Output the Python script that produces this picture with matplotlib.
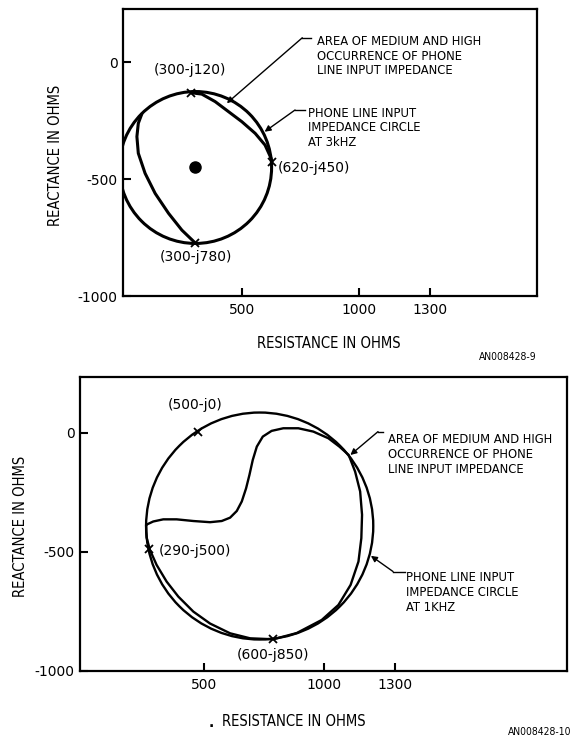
import matplotlib
matplotlib.use("Agg")
import matplotlib.pyplot as plt
from matplotlib import font_manager
from matplotlib.patches import Circle

plt.rcParams["axes.unicode_minus"] = False

# --- top chart: 3 kHz ---
circle3_center = (300, -450)
circle3_radius = 325
area3_right_r = [281, 327, 384, 441, 498, 555, 597, 623, 626]
area3_right_x = [-130, -136, -168, -211, -254, -304, -354, -411, -425]
area3_left_r = [298, 242, 185, 128, 85, 56, 50, 56, 71]
area3_left_x = [-772, -718, -646, -561, -475, -389, -318, -261, -221]
points3_r = [281, 298, 626]
points3_x = [-130, -772, -425]
points3_labels = ["(300-j120)", "(300-j780)", "(620-j450)"]

# --- bottom chart: 1 kHz ---
circle1_center = (732, -392)
circle1_radius = 476
area1_r = [256, 286, 328, 384, 454, 524, 573, 608, 636, 657, 675, 689, 703, 720,
           745, 782, 831, 894, 957, 1020, 1066, 1105,
           1132, 1153, 1161, 1158, 1146, 1113, 1062, 992, 887, 789,
           692, 608, 524, 454, 391, 342, 300, 272, 258, 256]
area1_x = [-387, -373, -364, -364, -371, -376, -371, -357, -329, -289, -234, -178, -115, -59,
           -17, 7, 18, 18, 4, -24, -59, -94,
           -164, -247, -345, -443, -541, -639, -723, -786, -841, -867,
           -863, -842, -801, -751, -688, -625, -555, -492, -440, -387]
points1_r = [472, 270, 789]
points1_x = [4, -488, -864]
points1_labels = ["(500-j0)", "(290-j500)", "(600-j850)"]

xticks = [500, 1000, 1300]
yticks = [0, -500, -1000]


# najde uzky (condensed) bezpatkovy font, jinak Liberation Sans
def uzky_font():
    kandidati = []
    for f in font_manager.fontManager.ttflist:
        jmeno = f.name
        uzky = f.stretch in ("condensed", "semi-condensed", "extra-condensed") \
            or "Narrow" in jmeno or "Condensed" in jmeno
        if not uzky or f.style != "normal" or f.weight not in (400, "normal", "regular"):
            continue
        if "Serif" in jmeno or "Mono" in jmeno:
            continue
        kandidati.append(f)
    if kandidati:
        kandidati.sort(key=lambda f: 0 if "Liberation" in f.name else 1)
        return font_manager.FontProperties(fname=kandidati[0].fname)
    return font_manager.FontProperties(family="Liberation Sans")


fig = plt.figure(figsize=(5.73, 7.41), dpi=100)
renderer = fig.canvas.get_renderer()
UZKY = uzky_font()


# velikost fontu tak, aby text mel danou sirku v pixelech
def velikost(text, sirka):
    fp = UZKY.copy()
    fp.set_size(10)
    t = fig.text(0, 0, text, fontproperties=fp)
    w = t.get_window_extent(renderer).width
    t.remove()
    return 10 * sirka / w


size_note = velikost("AREA OF MEDIUM AND HIGH", 166)
size_axlab = velikost("RESISTANCE IN OHMS", 145)
size_code = velikost("AN008428-9", 58)


def fp(size):
    p = UZKY.copy()
    p.set_size(size)
    return p


def kresli(ax, center, radius, curves, pts_r, pts_x, lw):
    ax.add_patch(Circle(center, radius, fill=False, ec="black", lw=lw))
    for r, x in curves:
        ax.plot(r, x, c="black", lw=lw, solid_joinstyle="round", solid_capstyle="round")
    ax.plot(pts_r, pts_x, "kx", ms=6, mew=1.3)
    ax.set_xticks(xticks)
    ax.set_yticks(yticks)
    ax.tick_params(direction="in", length=6, width=1.5, labelsize=10)
    ax.tick_params(axis="x", pad=5)
    ax.tick_params(axis="y", pad=4)
    for s in ax.spines.values():
        s.set_linewidth(1.6)


def sipka(ax, tip, corner, end):
    ax.plot([corner[0], end[0]], [corner[1], end[1]], c="black", lw=1, clip_on=False)
    ax.annotate("", xy=tip, xytext=corner,
                arrowprops=dict(arrowstyle="-|>", color="black", lw=1, mutation_scale=9,
                                shrinkA=0, shrinkB=0),
                annotation_clip=False)


# horni graf
ax1 = fig.add_axes([0.2152, 0.6005, 0.722, 0.3873])
kresli(ax1, circle3_center, circle3_radius,
       [(area3_right_r, area3_right_x), (area3_left_r, area3_left_x)],
       points3_r, points3_x, 2.2)
ax1.plot(*circle3_center, "ko", ms=8)
ax1.set_xlim(-8, 1758)
ax1.set_ylim(-1000, 228)
ax1.text(277, -33, points3_labels[0], ha="center", va="center", fontsize=10)
ax1.text(303, -835, points3_labels[1], ha="center", va="center", fontsize=10)
ax1.text(653, -454, points3_labels[2], ha="left", va="center", fontsize=10)
ax1.text(818, 27, "AREA OF MEDIUM AND HIGH\nOCCURRENCE OF PHONE\nLINE INPUT IMPEDANCE",
         ha="left", va="center", fontproperties=fp(size_note), linespacing=1.15)
ax1.text(780, -280, "PHONE LINE INPUT\nIMPEDANCE CIRCLE\nAT 3kHZ",
         ha="left", va="center", fontproperties=fp(size_note), linespacing=1.15)
sipka(ax1, (434, -175), (756, 105), (794, 105))
sipka(ax1, (595, -297), (725, -204), (768, -204))
ax1.set_xlabel("RESISTANCE IN OHMS", fontproperties=fp(size_axlab))
ax1.xaxis.set_label_coords(0.497, -0.164)
ax1.xaxis.label.set_va("center")
ax1.set_ylabel("REACTANCE IN OHMS", fontproperties=fp(size_axlab))
ax1.yaxis.set_label_coords(-0.165, 0.491)
ax1.yaxis.label.set_va("center")

# dolni graf
ax2 = fig.add_axes([0.1396, 0.0945, 0.8504, 0.3964])
kresli(ax2, circle1_center, circle1_radius, [(area1_r, area1_x)],
       points1_r, points1_x, 1.7)
ax2.set_xlim(-21, 2021)
ax2.set_ylim(-1000, 232)
ax2.text(461, 116, points1_labels[0], ha="center", va="center", fontsize=10)
ax2.text(307, -495, points1_labels[1], ha="left", va="center", fontsize=10)
ax2.text(789, -933, points1_labels[2], ha="center", va="center", fontsize=10)
ax2.text(1270, -91, "AREA OF MEDIUM AND HIGH\nOCCURRENCE OF PHONE\nLINE INPUT IMPEDANCE",
         ha="left", va="center", fontproperties=fp(size_note), linespacing=1.2)
ax2.text(1347, -671, "PHONE LINE INPUT\nIMPEDANCE CIRCLE\nAT 1KHZ",
         ha="left", va="center", fontproperties=fp(size_note), linespacing=1.2)
sipka(ax2, (1112, -94), (1228, 4), (1249, 4))
sipka(ax2, (1198, -517), (1291, -583), (1340, -583))
ax2.set_xlabel("RESISTANCE IN OHMS", fontproperties=fp(size_axlab))
ax2.xaxis.set_label_coords(0.439, -0.173)
ax2.xaxis.label.set_va("center")
ax2.text(0.270, -0.178, ".", transform=ax2.transAxes, ha="center", va="center",
         fontsize=10, fontweight="bold")
ax2.set_ylabel("REACTANCE IN OHMS", fontproperties=fp(size_axlab))
ax2.yaxis.set_label_coords(-0.123, 0.491)
ax2.yaxis.label.set_va("center")

fig.text(0.937, 0.518, "AN008428-9", ha="right", va="center", fontproperties=fp(size_code))
fig.text(0.998, 0.0126, "AN008428-10", ha="right", va="center", fontproperties=fp(size_code))

fig.savefig("out.png", dpi=100)
